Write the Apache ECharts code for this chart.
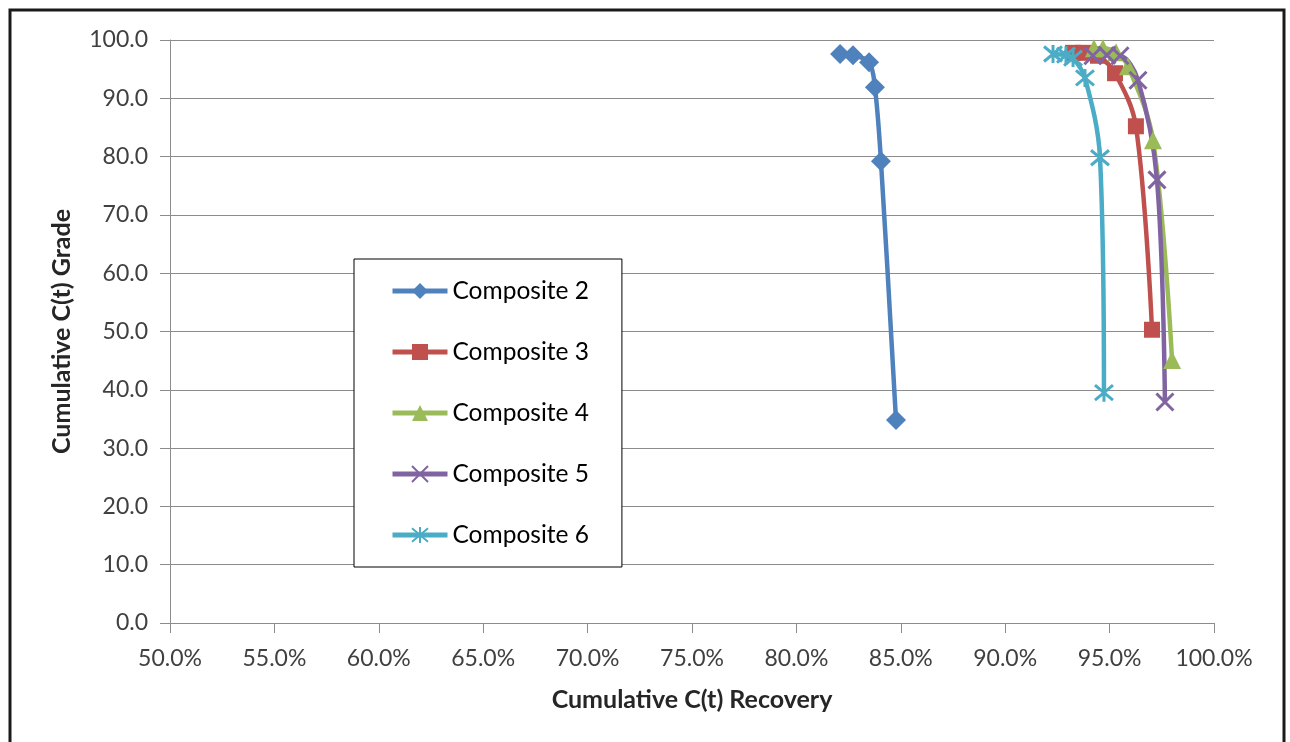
<!DOCTYPE html>
<html>
<head>
<meta charset="utf-8">
<script src="https://cdn.jsdelivr.net/npm/echarts@6/dist/echarts.min.js"></script>
<style>
html,body{margin:0;padding:0;background:#fff;}
#chart{width:1290px;height:742px;}
</style>
</head>
<body>
<div id="chart"></div>
<script>
// Data (recovery %, grade)
const seriesNames = ['Composite 2', 'Composite 3', 'Composite 4', 'Composite 5', 'Composite 6'];
const comp2 = [[82.09, 97.6], [82.71, 97.4], [83.48, 96.2], [83.76, 91.9], [84.05, 79.2], [84.77, 34.8]];
const comp3 = [[93.25, 97.8], [93.73, 97.8], [94.44, 97.3], [95.26, 94.3], [96.26, 85.2], [97.03, 50.3]];
const comp4 = [[94.25, 98.6], [94.68, 98.6], [95.31, 97.9], [95.88, 95.5], [97.08, 82.8], [97.99, 45.1]];
const comp5 = [[94.20, 97.3], [94.87, 97.4], [95.50, 97.3], [96.36, 93.1], [97.27, 76.0], [97.65, 37.9]];
const comp6 = [[92.29, 97.6], [92.91, 97.4], [93.25, 96.9], [93.82, 93.5], [94.54, 79.8], [94.73, 39.5]];
const xTicks = [50, 55, 60, 65, 70, 75, 80, 85, 90, 95, 100];
const yTicks = [0, 10, 20, 30, 40, 50, 60, 70, 80, 90, 100];

const colors = ['#4F81BD', '#C0504D', '#9BBB59', '#8064A2', '#4BACC6'];
const allData = [comp2, comp3, comp4, comp5, comp6];
const symbols = ['diamond', 'rect', 'triangle',
  'path://M0,0L10,10M10,0L0,10',
  'path://M0,0L10,10M10,0L0,10M5,-1L5,11'];
const sizes = [20, 16, 18, 17, 18];

const FONT = 'Lato';
const chart = echarts.init(document.getElementById('chart'), null, {renderer: 'canvas'});

const series = allData.map((d, i) => {
  const stroked = i >= 3;
  return {
    name: seriesNames[i],
    type: 'line',
    data: d,
    smooth: 0.35,
    symbol: symbols[i],
    symbolSize: sizes[i],
    showAllSymbol: true,
    lineStyle: {color: colors[i], width: 4.5},
    itemStyle: stroked
      ? {color: 'rgba(0,0,0,0)', borderColor: colors[i], borderWidth: 3}
      : {color: colors[i], borderWidth: 0},
    emphasis: {disabled: true},
    animation: false
  };
});

chart.setOption({
  animation: false,
  backgroundColor: '#fff',
  color: colors,
  grid: {left: 170, right: 76, top: 40, bottom: 119, containLabel: false},
  xAxis: {
    type: 'value',
    min: 50, max: 100, interval: 5,
    name: 'Cumulative C(t) Recovery',
    nameLocation: 'middle',
    nameGap: 64,
    nameTextStyle: {fontFamily: FONT, fontWeight: 'bold', fontSize: 25, color: '#262626'},
    axisLine: {show: true, onZero: false, lineStyle: {color: '#8c8c8c', width: 1}},
    axisTick: {show: true, length: 10, lineStyle: {color: '#8c8c8c'}},
    axisLabel: {
      fontFamily: FONT, fontSize: 23, color: '#404040', margin: 24,
      formatter: v => xTicks.includes(v) ? v.toFixed(1) + '%' : ''
    },
    splitLine: {show: false}
  },
  yAxis: {
    type: 'value',
    min: 0, max: 100, interval: 10,
    name: 'Cumulative C(t) Grade',
    nameLocation: 'middle',
    nameGap: 96,
    nameRotate: 90,
    nameTextStyle: {fontFamily: FONT, fontWeight: 'bold', fontSize: 25, color: '#262626'},
    axisLine: {show: true, lineStyle: {color: '#8c8c8c', width: 1}},
    axisTick: {show: true, length: 10, lineStyle: {color: '#8c8c8c'}},
    axisLabel: {
      fontFamily: FONT, fontSize: 23, color: '#404040', margin: 22,
      formatter: v => yTicks.includes(v) ? v.toFixed(1) : ''
    },
    splitLine: {show: true, lineStyle: {color: '#8c8c8c', width: 1}}
  },
  legend: {
    orient: 'vertical',
    left: 354, top: 259,
    data: seriesNames,
    backgroundColor: '#fff',
    borderColor: '#000',
    borderWidth: 1,
    padding: [19, 33, 19, 36],
    itemWidth: 55,
    itemHeight: 20,
    itemGap: 35,
    lineStyle: {width: 5},
    textStyle: {fontFamily: FONT, fontSize: 24.5, color: '#000', lineHeight: 26},
    selectedMode: false
  },
  graphic: [{
    type: 'rect',
    shape: {x: 10, y: 10, width: 1274, height: 800},
    style: {fill: 'none', stroke: '#1a1a1a', lineWidth: 3},
    silent: true,
    z: 100
  }],
  series: series
});
</script>
</body>
</html>
